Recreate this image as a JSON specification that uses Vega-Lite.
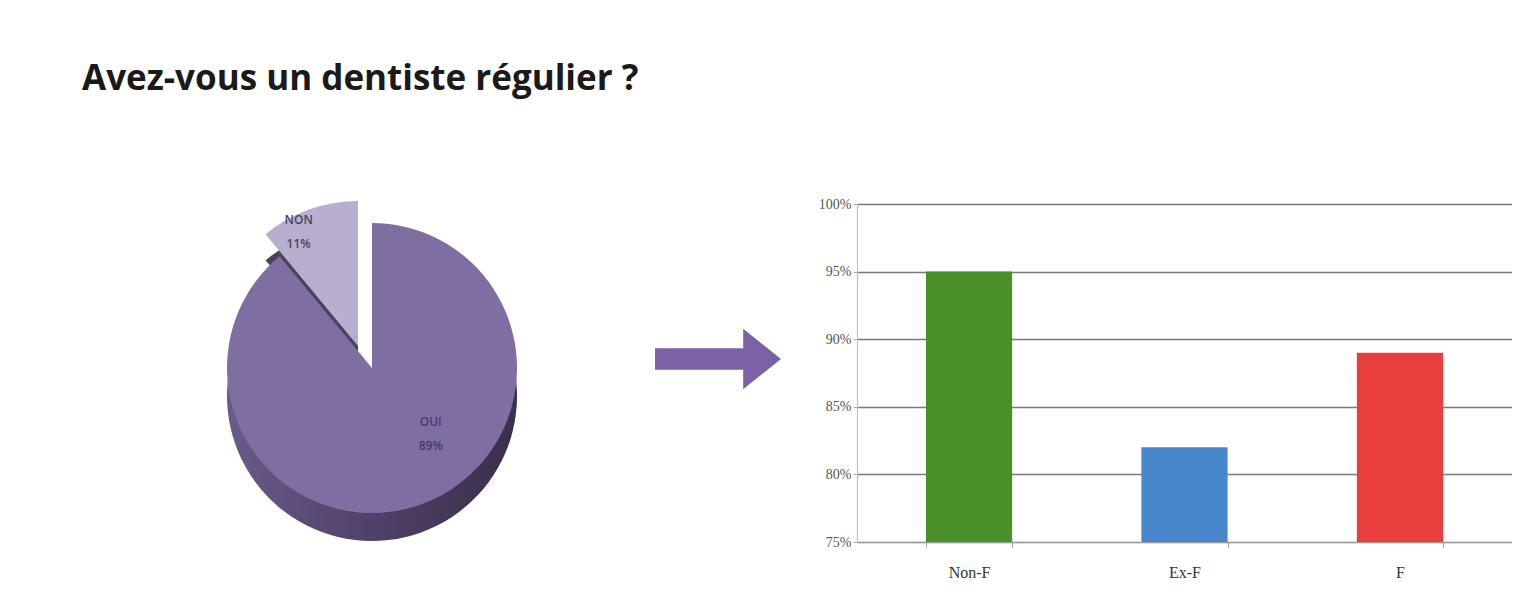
{
  "$schema": "https://vega.github.io/schema/vega-lite/v6.json",
  "background": "white",
  "padding": {"left": 82, "top": 62, "right": 0, "bottom": 0},
  "title": {"text": "Avez-vous un dentiste régulier ?", "anchor": "start", "font": "Open Sans", "fontSize": 35, "fontWeight": "bold", "color": "#1a1a1a", "offset": 100},
  "config": {"view": {"stroke": null}},
  "spacing": 0,
  "hconcat": [
    {
      "width": 568,
      "height": 338,
      "data": {"values": [
        {"cat": "OUI", "pct": 89, "ord": 1, "lines": ["OUI", "89%"]},
        {"cat": "NON", "pct": 11, "ord": 2, "lines": ["NON", "11%"]}
      ]},
      "encoding": {
        "theta": {"field": "pct", "type": "quantitative", "stack": true},
        "order": {"field": "ord", "type": "quantitative"}
      },
      "layer": [
        {"mark": {"type": "arc", "outerRadius": 145, "xOffset": 6, "yOffset": 23,
                  "color": {"gradient": "linear", "x1": 0, "y1": 0, "x2": 1, "y2": 0, "stops": [{"offset": 0, "color": "#6a5a8a"}, {"offset": 0.5, "color": "#4f4168"}, {"offset": 1, "color": "#3a2f4c"}]}},
         "encoding": {"opacity": {"condition": {"test": "datum.cat === 'OUI'", "value": 1}, "value": 0}}},
        {"mark": {"type": "arc", "outerRadius": 145, "color": "#4a4458", "xOffset": -8, "yOffset": -1},
         "encoding": {"opacity": {"condition": {"test": "datum.cat === 'NON'", "value": 1}, "value": 0}}},
        {"mark": {"type": "arc", "outerRadius": 145, "color": "#7f6ea1", "xOffset": 6, "yOffset": -5},
         "encoding": {"opacity": {"condition": {"test": "datum.cat === 'OUI'", "value": 1}, "value": 0}}},
        {"mark": {"type": "arc", "outerRadius": 145, "color": "#b8aecf", "xOffset": -8, "yOffset": -27},
         "encoding": {"opacity": {"condition": {"test": "datum.cat === 'NON'", "value": 1}, "value": 0}}},
        {"mark": {"type": "text", "radius": 70, "xOffset": 6, "yOffset": -5, "dx": 35, "dy": -12, "font": "Open Sans", "fontSize": 12, "fontWeight": 600, "color": "#4a3a62", "lineHeight": 24},
         "encoding": {"text": {"condition": {"test": "datum.cat === 'OUI'", "field": "lines"}, "value": ""}}},
        {"mark": {"type": "text", "radius": 125, "xOffset": -8, "yOffset": -27, "dx": -17, "dy": -8, "font": "Open Sans", "fontSize": 12, "fontWeight": 600, "color": "#4a4458", "lineHeight": 24},
         "encoding": {"text": {"condition": {"test": "datum.cat === 'NON'", "field": "lines"}, "value": ""}}}
      ]
    },
    {
      "width": 168,
      "height": 338,
      "data": {"values": [{"k": "arrow"}]},
      "mark": {"type": "point", "shape": "M-1,-0.17L0.4,-0.17L0.4,-0.48L1,0L0.4,0.48L0.4,0.17L-1,0.17Z", "filled": true, "color": "#7b62a6", "opacity": 1, "size": 15876, "xOffset": -16, "yOffset": -14},
      "encoding": {}
    },
    {
      "width": 655,
      "height": 338,
      "data": {"values": [
        {"group": "Non-F", "value": 0.95},
        {"group": "Ex-F", "value": 0.82},
        {"group": "F", "value": 0.89}
      ]},
      "mark": {"type": "bar", "clip": true},
      "encoding": {
        "x": {"field": "group", "type": "nominal", "sort": null,
              "scale": {"paddingInner": 0.6, "paddingOuter": 0.32},
              "axis": {"title": null, "labelAngle": 0, "labelFont": "Liberation Serif", "labelFontSize": 16, "labelColor": "#333", "domainColor": "#999", "tickColor": "#999", "tickBand": "extent", "tickSize": 5, "labelPadding": 17}},
        "y": {"field": "value", "type": "quantitative", "scale": {"domain": [0.75, 1]},
              "axis": {"title": null, "values": [0.75, 0.8, 0.85, 0.9, 0.95, 1], "format": ".0%", "labelFont": "Liberation Serif", "labelFontSize": 14, "labelColor": "#555", "gridColor": "#7a7a7a", "gridWidth": 1.4, "gridOpacity": 1, "domainColor": "#bbb", "tickSize": 4, "tickColor": "#aaa"}},
        "color": {"field": "group", "type": "nominal", "legend": null,
                  "scale": {"domain": ["Non-F", "Ex-F", "F"], "range": ["#4a9028", "#4887cc", "#e83e3e"]}}
      }
    }
  ]
}
